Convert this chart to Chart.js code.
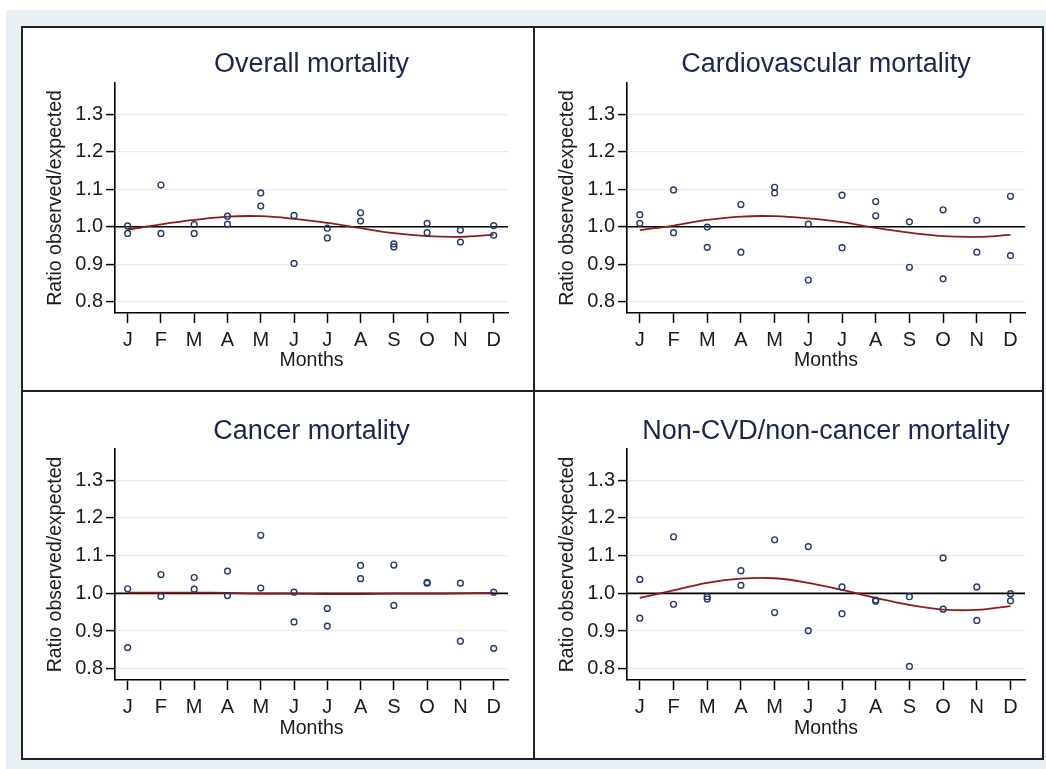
<!DOCTYPE html>
<html>
<head>
<meta charset="utf-8">
<script src="https://cdn.jsdelivr.net/npm/chart.js@4.4.1/dist/chart.umd.min.js"></script>
<style>
  body { margin: 0; background: #fff; width: 1046px; height: 769px; position: relative; overflow: hidden; }
  .bg { position: absolute; left: 6px; top: 10px; width: 1040px; height: 759px; background: #e9f0f3; }
  .panel { position: absolute; box-sizing: border-box; border: 2px solid #222; background: #fff; }
  .panel canvas { display: block; }
</style>
</head>
<body>
<div class="bg"></div>
<div class="panel" style="left:21px;top:26px;width:514px;height:366px"><canvas id="c1" width="510" height="362"></canvas></div>
<div class="panel" style="left:533px;top:26px;width:511px;height:366px"><canvas id="c2" width="507" height="362"></canvas></div>
<div class="panel" style="left:21px;top:390px;width:514px;height:370px"><canvas id="c3" width="510" height="366"></canvas></div>
<div class="panel" style="left:533px;top:390px;width:511px;height:370px"><canvas id="c4" width="507" height="366"></canvas></div>
<script>
// labels / ticks
const months = ["J", "F", "M", "A", "M", "J", "J", "A", "S", "O", "N", "D"];
const yTicks = [0.8, 0.9, 1.0, 1.1, 1.2, 1.3];
const refValue = 1.0;

// Overall mortality
const overallObs1 = [1.002, 1.111, 1.006, 1.028, 1.090, 1.030, 0.996, 1.037, 0.954, 1.009, 0.991, 1.003];
const overallObs2 = [0.982, 0.982, 0.982, 1.007, 1.055, 0.902, 0.970, 1.015, 0.946, 0.984, 0.959, 0.977];
const overallFit = [0.992, 1.006, 1.018, 1.027, 1.028, 1.021, 1.010, 0.996, 0.983, 0.975, 0.973, 0.979];

// Cardiovascular mortality
const cvdObs1 = [1.032, 1.098, 0.999, 1.059, 1.105, 1.007, 1.084, 1.067, 1.013, 1.045, 1.017, 1.081];
const cvdObs2 = [1.009, 0.984, 0.945, 0.932, 1.090, 0.858, 0.944, 1.029, 0.892, 0.861, 0.932, 0.923];
const cvdFit = [0.991, 1.003, 1.018, 1.027, 1.028, 1.022, 1.012, 0.997, 0.984, 0.975, 0.973, 0.978];

// Cancer mortality
const cancerObs1 = [1.012, 1.050, 1.042, 1.059, 1.154, 1.003, 0.960, 1.074, 1.075, 1.029, 1.027, 1.003];
const cancerObs2 = [0.856, 0.992, 1.011, 0.994, 1.014, 0.924, 0.913, 1.039, 0.968, 1.027, 0.873, 0.854];
const cancerFit = [1.002, 1.002, 1.002, 1.001, 0.999, 0.999, 0.998, 0.998, 0.999, 0.999, 1.000, 1.001];

// Non-CVD/non-cancer mortality
const otherObs1 = [1.037, 1.150, 0.991, 1.060, 1.142, 1.124, 1.017, 0.982, 0.991, 1.094, 1.017, 0.999];
const otherObs2 = [0.934, 0.971, 0.985, 1.021, 0.949, 0.901, 0.946, 0.979, 0.806, 0.958, 0.928, 0.980];
const otherFit = [0.988, 1.008, 1.028, 1.039, 1.040, 1.028, 1.009, 0.988, 0.969, 0.957, 0.956, 0.966];

Chart.defaults.font.family = "'Liberation Sans', Arial, sans-serif";
Chart.defaults.color = "#1a1a1a";

// black reference line at 1.0
const refLinePlugin = {
  id: "refLine",
  beforeDatasetsDraw(chart) {
    const { ctx, chartArea, scales } = chart;
    const y = scales.y.getPixelForValue(refValue);
    ctx.save();
    ctx.strokeStyle = "#000";
    ctx.lineWidth = 1.6;
    ctx.beginPath();
    ctx.moveTo(chartArea.left, y);
    ctx.lineTo(chartArea.right, y);
    ctx.stroke();
    ctx.restore();
  },
};

function toPoints(values) {
  return values.map((v, i) => ({ x: i + 1, y: v }));
}

function makeChart(id, title, obs1, obs2, fit, opt) {
  const markerStyle = {
    type: "scatter",
    pointStyle: "circle",
    pointRadius: 2.9,
    pointBorderWidth: 1.4,
    borderColor: "#233a66",
    backgroundColor: "rgba(0,0,0,0)",
  };
  return new Chart(document.getElementById(id), {
    type: "scatter",
    data: {
      datasets: [
        { ...markerStyle, label: "obs1", data: toPoints(obs1) },
        { ...markerStyle, label: "obs2", data: toPoints(obs2) },
        {
          type: "scatter",
          label: "fit",
          data: toPoints(fit),
          showLine: true,
          tension: 0.4,
          pointRadius: 0,
          borderColor: "#8e1b1b",
          borderWidth: 1.8,
        },
      ],
    },
    plugins: [refLinePlugin],
    options: {
      responsive: false,
      animation: false,
      events: [],
      layout: { padding: { left: 0, right: opt.padRight, top: 0, bottom: 0 } },
      plugins: {
        legend: { display: false },
        tooltip: { enabled: false },
        title: {
          display: true,
          text: title,
          fullSize: false,
          color: "#1b2550",
          font: { size: 27, weight: "normal", lineHeight: 1.2 },
          padding: { top: opt.titleTop, bottom: opt.titleBottom },
        },
      },
      scales: {
        x: {
          type: "linear",
          min: 0.62,
          max: 12.43,
          afterFit: (scale) => { scale.height = opt.xHeight; },
          afterBuildTicks: (scale) => { scale.ticks = months.map((m, i) => ({ value: i + 1 })); },
          ticks: {
            callback: (v) => months[v - 1],
            font: { size: 20 },
            padding: 5,
            maxRotation: 0,
            autoSkip: false,
          },
          grid: { drawOnChartArea: false, drawTicks: true, tickLength: 10, tickColor: "#000", tickWidth: 1.5 },
          border: { color: "#000", width: 1.6 },
          title: { display: true, text: "Months", font: { size: 19.5 }, padding: { top: 0, bottom: 18 } },
        },
        y: {
          type: "linear",
          min: 0.77,
          max: 1.383,
          afterFit: (scale) => { scale.width = 92; },
          afterBuildTicks: (scale) => { scale.ticks = yTicks.map((v) => ({ value: v })); },
          ticks: {
            callback: (v) => v.toFixed(1),
            font: { size: 20 },
            padding: 3,
          },
          grid: { color: "#ebebeb", lineWidth: 1.2, drawTicks: true, tickLength: 9, tickColor: "#000", tickWidth: 1.5 },
          border: { color: "#000", width: 1.6 },
          title: { display: true, text: "Ratio observed/expected", font: { size: 19.5 }, padding: { top: 21, bottom: 0 } },
        },
      },
    },
  });
}

const topOpt = { padRight: 25, titleTop: 20.8, titleBottom: 1.8, xHeight: 77 };
const topOpt2 = { padRight: 17, titleTop: 20.8, titleBottom: 1.8, xHeight: 77 };
const botOpt = { padRight: 25, titleTop: 23, titleBottom: 1.6, xHeight: 78 };
const botOpt2 = { padRight: 17, titleTop: 23, titleBottom: 1.6, xHeight: 78 };

makeChart("c1", "Overall mortality", overallObs1, overallObs2, overallFit, topOpt);
makeChart("c2", "Cardiovascular mortality", cvdObs1, cvdObs2, cvdFit, topOpt2);
makeChart("c3", "Cancer mortality", cancerObs1, cancerObs2, cancerFit, botOpt);
makeChart("c4", "Non-CVD/non-cancer mortality", otherObs1, otherObs2, otherFit, botOpt2);
</script>
</body>
</html>
